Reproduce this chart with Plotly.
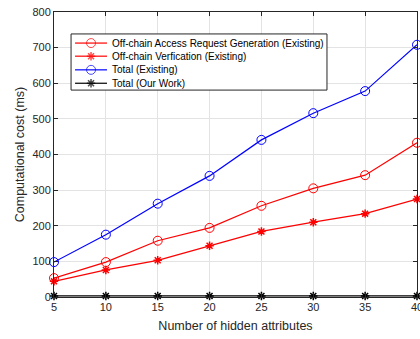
import plotly.graph_objects as go

x_vals = [5, 10, 15, 20, 25, 30, 35, 40]
access_req = [53, 98, 158, 194, 256, 305, 342, 433]
verification = [44, 76, 103, 144, 184, 210, 234, 275]
total_existing = [98, 175, 262, 340, 441, 516, 578, 708]
total_ours = [3, 3, 3, 3, 3, 3, 3, 3]

names = [
    "Off-chain Access Request Generation (Existing)",
    "Off-chain Verfication (Existing)",
    "Total (Existing)",
    "Total (Our Work)",
]
series = [access_req, verification, total_existing, total_ours]
colors = ["#ff0000", "#ff0000", "#0000ff", "#000000"]
symbols = ["circle-open", "asterisk-open", "circle-open", "asterisk-open"]
msizes = [9, 7, 9, 7]
mwidths = [1, 1.5, 1, 1.5]

FONT = "Liberation Sans, Arial, sans-serif"

fig = go.Figure()
for name, ys, c, s, ms, mw in zip(names, series, colors, symbols, msizes, mwidths):
    fig.add_trace(go.Scatter(x=x_vals, y=ys, name=name, mode="lines+markers",
                             line=dict(color=c, width=1.2),
                             marker=dict(symbol=s, size=ms, color=c, line=dict(width=mw, color=c)),
                             showlegend=False, cliponaxis=False))

# custom compact legend (MATLAB style) drawn on an overlay axis spanning [0,1]
leg_x0, leg_x1, leg_y0, leg_y1 = 0.047, 0.752, 0.726, 0.923
row_y = [0.891, 0.845, 0.797, 0.750]
line_x = [0.058, 0.102, 0.146]
text_x = 0.155

fig.add_trace(go.Scatter(x=[leg_x0, leg_x1, leg_x1, leg_x0, leg_x0],
                         y=[leg_y0, leg_y0, leg_y1, leg_y1, leg_y0],
                         xaxis="x2", yaxis="y2", mode="lines", fill="toself",
                         fillcolor="white", line=dict(color="#262626", width=1),
                         showlegend=False, hoverinfo="skip"))

for name, ry, c, s, ms, mw in zip(names, row_y, colors, symbols, msizes, mwidths):
    fig.add_trace(go.Scatter(x=line_x, y=[ry] * 3, xaxis="x2", yaxis="y2", mode="lines+markers",
                             line=dict(color=c, width=1.2),
                             marker=dict(symbol=s, size=[0, ms, 0], color=c, line=dict(width=mw, color=c)),
                             showlegend=False, hoverinfo="skip"))
    fig.add_annotation(xref="x2", yref="y2", x=text_x, y=ry, text=name,
                       showarrow=False, xanchor="left", yanchor="middle",
                       font=dict(family=FONT, size=10, color="#000000"))

axis_common = dict(
    showgrid=True, gridcolor="#e3e3e3", gridwidth=1,
    showline=True, linecolor="#262626", linewidth=1, mirror="ticks",
    ticks="inside", ticklen=4, tickcolor="#262626",
    tickfont=dict(family=FONT, size=11, color="#262626"),
    zeroline=False, automargin=False,
)

fig.update_layout(
    width=420, height=339,
    margin=dict(l=54, r=3, t=12, b=42, autoexpand=False),
    paper_bgcolor="white", plot_bgcolor="white",
    font=dict(family=FONT, color="#262626"),
    xaxis=dict(range=[5, 40], tickvals=x_vals, ticklabeloverflow="allow",
               title=dict(text="Number of hidden attributes", font=dict(size=12.5), standoff=9),
               **axis_common),
    yaxis=dict(range=[0, 800], tickvals=[0, 100, 200, 300, 400, 500, 600, 700, 800],
               title=dict(text="Computational cost (ms)", font=dict(size=12.5), standoff=5),
               **axis_common),
    xaxis2=dict(range=[0, 1], overlaying="x", visible=False, fixedrange=True, automargin=False),
    yaxis2=dict(range=[0, 1], overlaying="y", visible=False, fixedrange=True, automargin=False),
    showlegend=False,
)

fig.write_html("out.html")
